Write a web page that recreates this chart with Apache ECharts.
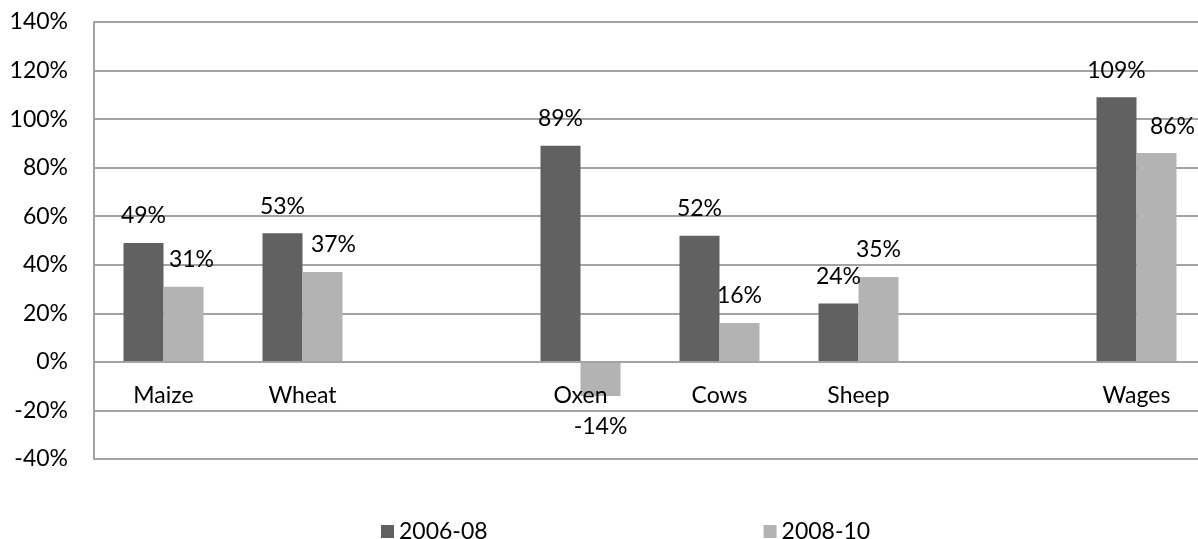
<!DOCTYPE html>
<html>
<head>
<meta charset="utf-8">
<script src="https://cdn.jsdelivr.net/npm/echarts@6/dist/echarts.min.js"></script>
<style>
  html, body { margin: 0; padding: 0; background: #fff; overflow: hidden; }
  /* the plot runs slightly past the right edge of the page */
  #chart { width: 1206px; height: 539px; }
</style>
</head>
<body>
<div id="chart"></div>
<script>
// Price change by commodity, two periods (blank slots separate the groups)
const categories = ['Maize', 'Wheat', '', 'Oxen', 'Cows', 'Sheep', '', 'Wages'];
const seriesNames = ['2006-08', '2008-10'];
const values0608 = [49, 53, null, 89, 52, 24, null, 109];
const values0810 = [31, 37, null, -14, 16, 35, null, 86];
const yTicks = { min: -40, max: 140, interval: 20 };

// label nudges for the lighter series where its label would collide
const lightLabelShift = { 0: 8, 1: 11, 7: 16 };

const FONT = 'Lato';
const FS = 23;
const DARK = '#616161';
const LIGHT = '#b3b3b3';
const LINE = '#a3a3a3';

function buildData(vals, shifts) {
  return vals.map((v, i) => {
    if (v === null) return null;
    const label = {};
    if (v < 0) { label.position = 'bottom'; label.distance = 20; }
    if (shifts && shifts[i]) label.offset = [shifts[i], 0];
    return { value: v, label };
  });
}

const labelBase = {
  show: true,
  position: 'top',
  distance: 16,
  formatter: p => p.value + '%',
  fontFamily: FONT,
  fontSize: FS,
  lineHeight: 22,
  color: '#000'
};

const chart = echarts.init(document.getElementById('chart'), null, { renderer: 'canvas' });
chart.setOption({
  animation: false,
  backgroundColor: '#fff',
  textStyle: { fontFamily: FONT },
  grid: { left: 94, top: 22, width: 1112, height: 437, containLabel: false },
  legend: {
    data: seriesNames,
    left: 381,
    top: 520,
    padding: 0,
    itemGap: 276,
    itemWidth: 13,
    itemHeight: 13,
    icon: 'rect',
    textStyle: { fontFamily: FONT, fontSize: FS, lineHeight: 22, color: '#000' }
  },
  xAxis: {
    type: 'category',
    data: categories,
    z: 5,
    axisLine: { onZero: true, lineStyle: { color: LINE, width: 2 } },
    axisTick: { show: false },
    // category names sit just under the zero line, inside the plot
    axisLabel: { margin: -74, fontFamily: FONT, fontSize: FS, lineHeight: 22, color: '#000', interval: 0 },
    splitLine: { show: false }
  },
  yAxis: {
    type: 'value',
    min: yTicks.min,
    max: yTicks.max,
    interval: yTicks.interval,
    axisLine: { show: true, lineStyle: { color: LINE, width: 2 } },
    axisTick: { show: false },
    axisLabel: { margin: 26, formatter: '{value}%', fontFamily: FONT, fontSize: FS, color: '#000' },
    splitLine: { show: true, lineStyle: { color: LINE, width: 2 } }
  },
  series: [
    {
      name: seriesNames[0],
      type: 'bar',
      barWidth: 40,
      barGap: '0%',
      itemStyle: { color: DARK },
      label: labelBase,
      data: buildData(values0608, null)
    },
    {
      name: seriesNames[1],
      type: 'bar',
      barWidth: 40,
      barGap: '0%',
      itemStyle: { color: LIGHT },
      label: labelBase,
      data: buildData(values0810, lightLabelShift)
    }
  ]
});
</script>
</body>
</html>
